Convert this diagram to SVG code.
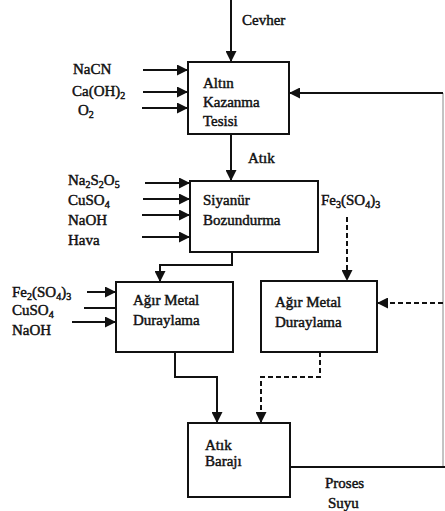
<svg xmlns="http://www.w3.org/2000/svg" width="445" height="511" viewBox="0 0 445 511">
<style>
text{font-family:"Liberation Serif",serif;font-size:15px;font-weight:normal;fill:#111;stroke:#111;stroke-width:0.45}
.box{fill:#fff;stroke:#111;stroke-width:2}
.ln{fill:none;stroke:#111;stroke-width:2}
.dash{fill:none;stroke:#111;stroke-width:2;stroke-dasharray:5,3}
.thin{fill:none;stroke:#888;stroke-width:1}
.sub{font-size:10px}
</style>
<defs>
<marker id="ah" viewBox="0 0 10 10" refX="10" refY="5" markerWidth="11" markerHeight="11" markerUnits="userSpaceOnUse" orient="auto">
<path d="M0,0 L10,5 L0,10 z" fill="#111"/>
</marker>
</defs>

<g id="connectors">
<path class="ln" d="M231,0 V62" marker-end="url(#ah)"/>
<path class="ln" d="M143,70 H188" marker-end="url(#ah)"/>
<path class="ln" d="M143,92 H188" marker-end="url(#ah)"/>
<path class="ln" d="M142,108 H188" marker-end="url(#ah)"/>
<path class="thin" d="M443,93 V467"/>
<path class="ln" d="M443,93 H289" marker-end="url(#ah)"/>
<path class="ln" d="M231,134 V181" marker-end="url(#ah)"/>
<path class="ln" d="M145,183 H190" marker-end="url(#ah)"/>
<path class="ln" d="M143,199 H190" marker-end="url(#ah)"/>
<path class="ln" d="M142,215 H190" marker-end="url(#ah)"/>
<path class="ln" d="M142,237 H190" marker-end="url(#ah)"/>
<path class="ln" d="M232,252 V265 H160 V282" marker-end="url(#ah)"/>
<path class="dash" d="M347,217 V281" marker-end="url(#ah)"/>
<path class="ln" d="M87,292 H116" marker-end="url(#ah)"/>
<path class="ln" d="M84,308 H128" marker-end="url(#ah)"/>
<path class="ln" d="M72,322 H116" marker-end="url(#ah)"/>
<path class="ln" d="M175,352 V377 H217 V423" marker-end="url(#ah)"/>
<path class="dash" d="M320,352 V377 H261 V423" marker-end="url(#ah)"/>
<path class="dash" d="M443,303 H377" marker-end="url(#ah)"/>
<path class="ln" d="M290,467 H445"/>
</g>

<g id="labels">
<text x="242" y="25">Cevher</text>
<text x="73" y="74">NaCN</text>
<text x="72" y="96">Ca(OH)<tspan class="sub" dy="3">2</tspan></text>
<text x="78" y="115">O<tspan class="sub" dy="3">2</tspan></text>
<text x="248" y="163">Atık</text>
<text x="68" y="185">Na<tspan class="sub" dy="3">2</tspan><tspan dy="-3">S</tspan><tspan class="sub" dy="3">2</tspan><tspan dy="-3">O</tspan><tspan class="sub" dy="3">5</tspan></text>
<text x="68" y="205">CuSO<tspan class="sub" dy="3">4</tspan></text>
<text x="68" y="225">NaOH</text>
<text x="68" y="245">Hava</text>
<text x="321" y="205">Fe<tspan class="sub" dy="3">3</tspan><tspan dy="-3">(SO</tspan><tspan class="sub" dy="3">4</tspan><tspan dy="-3">)</tspan><tspan class="sub" dy="3">3</tspan></text>
<text x="12" y="297">Fe<tspan class="sub" dy="3">2</tspan><tspan dy="-3">(SO</tspan><tspan class="sub" dy="3">4</tspan><tspan dy="-3">)</tspan><tspan class="sub" dy="3">3</tspan></text>
<text x="12" y="315">CuSO<tspan class="sub" dy="3">4</tspan></text>
<text x="12" y="335">NaOH</text>
<text x="325" y="488">Proses</text>
<text x="328" y="508">Suyu</text>
</g>

<g id="altin">
<rect class="box" x="188" y="62" width="101" height="72"/>
<text x="203" y="88">Altın</text>
<text x="203" y="107">Kazanma</text>
<text x="203" y="126">Tesisi</text>
</g>

<g id="siyanur">
<rect class="box" x="190" y="181" width="128" height="71"/>
<text x="203" y="205">Siyanür</text>
<text x="203" y="225">Bozundurma</text>
</g>

<g id="agir1">
<rect class="box" x="116" y="282" width="117" height="70"/>
<text x="133" y="305">Ağır Metal</text>
<text x="133" y="325">Duraylama</text>
</g>

<g id="agir2">
<rect class="box" x="261" y="281" width="116" height="71"/>
<text x="275" y="307">Ağır Metal</text>
<text x="275" y="327">Duraylama</text>
</g>

<g id="baraj">
<rect class="box" x="188" y="423" width="102" height="74"/>
<text x="205" y="450">Atık</text>
<text x="205" y="466">Barajı</text>
</g>
</svg>
